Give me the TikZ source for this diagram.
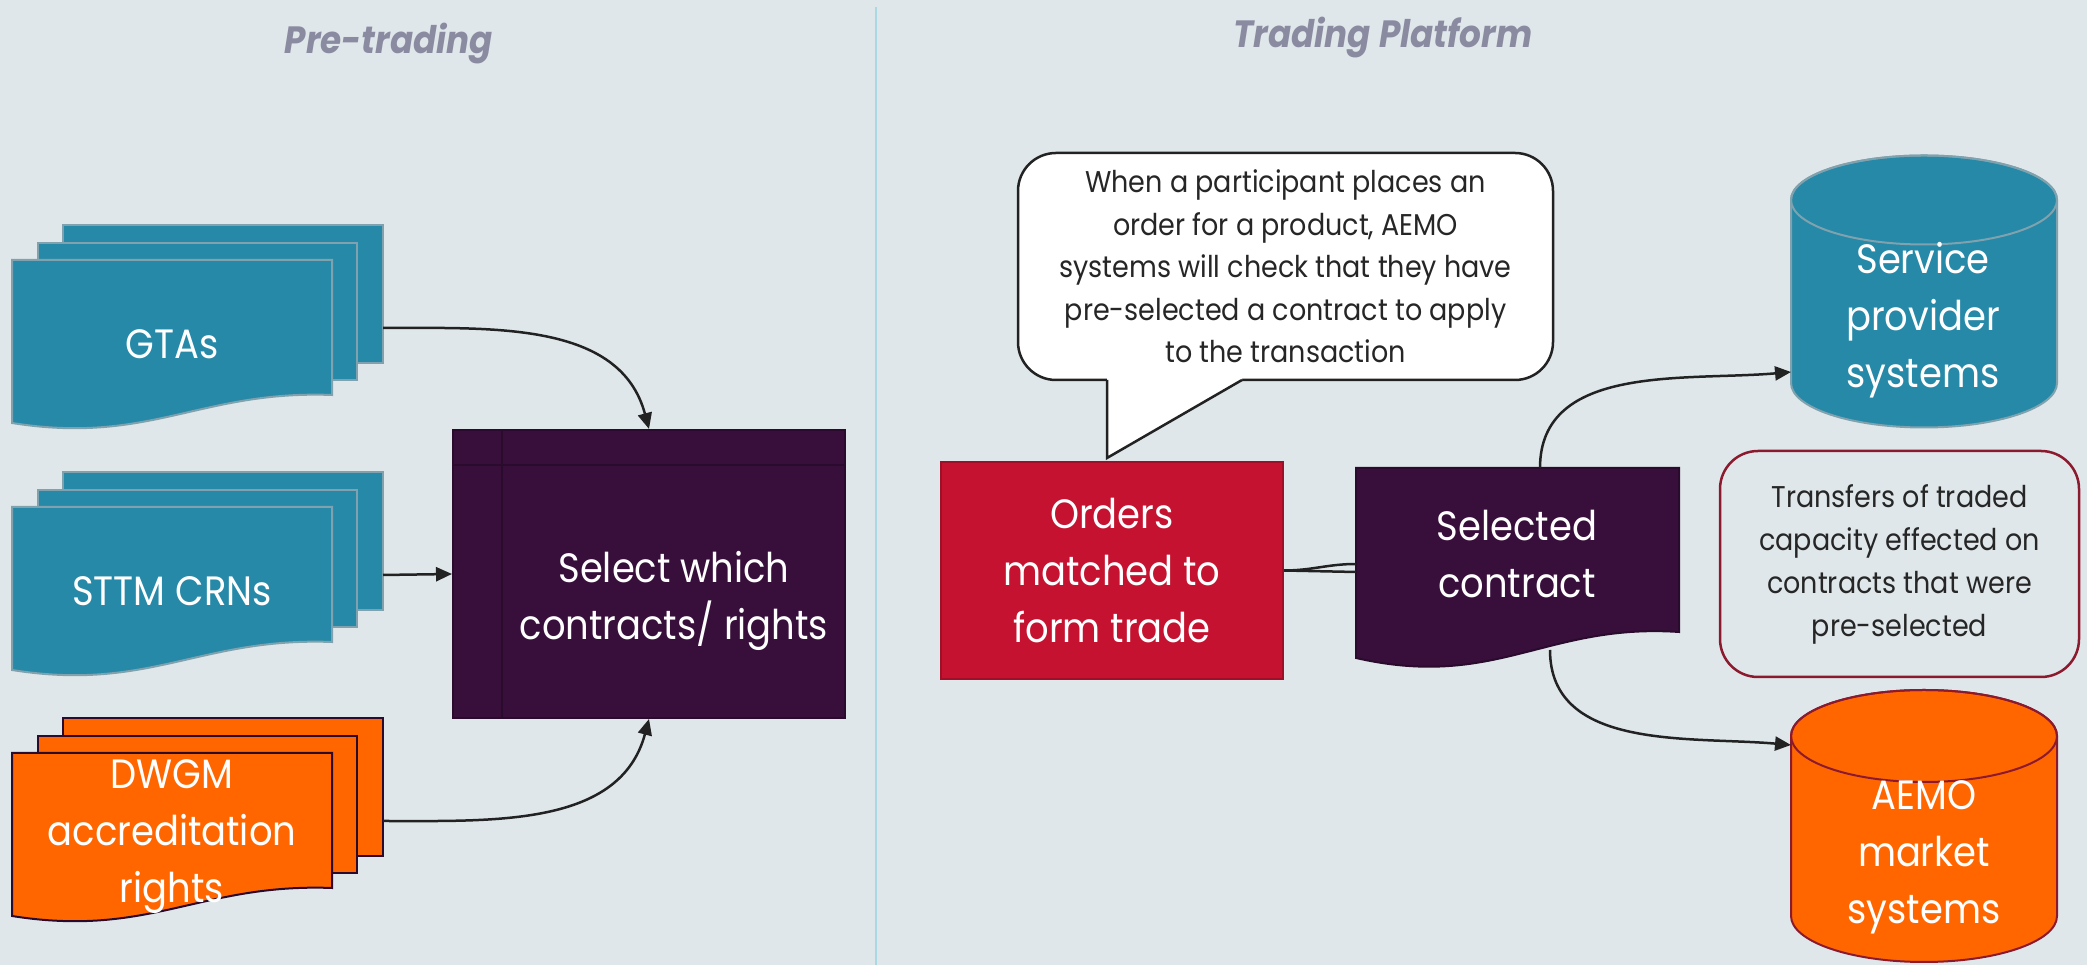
\documentclass[tikz,border=0pt]{standalone}
\usepackage{fontspec}
\setmainfont{Poppins}[FakeStretch=0.9]
\usetikzlibrary{arrows.meta,calc}
\definecolor{bg}{HTML}{DFE7EA}
\definecolor{tealfill}{HTML}{2689A8}
\definecolor{tealline}{HTML}{7FA2AE}
\definecolor{orangefill}{HTML}{FF6600}
\definecolor{purplefill}{HTML}{380F3B}
\definecolor{purpleline}{HTML}{2A0B2D}
\definecolor{redfill}{HTML}{C41230}
\definecolor{redline}{HTML}{A00F28}
\definecolor{darkred}{HTML}{8C1A2E}
\definecolor{darktext}{HTML}{262626}
\definecolor{titlegray}{HTML}{8A8BA0}
\definecolor{divider}{HTML}{A9D9E3}
\definecolor{linecol}{HTML}{222222}
\begin{document}
\begin{tikzpicture}[x=1pt,y=1pt,
  wtxt/.style={text=white,align=center,font=\fontsize{41}{57}\selectfont},
  ttl/.style={text=titlegray,font=\fontsize{38}{46}\selectfont\bfseries\itshape},
  conn/.style={draw=linecol,line width=2.5pt},
  arr/.style={conn,-{Triangle[length=16pt,width=14pt]}},
  note/.style={line width=2.5pt,rounded corners=38pt,outer sep=0pt,align=center,
    text=darktext,font=\fontsize{30}{42.5}\selectfont}]
\fill[bg] (0,0) rectangle (2087,965);
\useasboundingbox (0,0) rectangle (2087,965);

% headings and split
\node[ttl] (pre) at (389,921) {Pre-trading};
\node[ttl] (plat) at (1383,927) {Trading Platform};
\draw[divider,line width=2.5pt] (876,958) -- (876,0);

% stacked documents
\foreach \Y/\nm/\fc/\dc/\txt in {705/gta/tealfill/tealline/{GTAs},
    458/sttm/tealfill/tealline/{STTM CRNs},
    212/dwgm/orangefill/purpleline/{DWGM\\accreditation\\rights}} {
  \begin{scope}[shift={(12,\Y)}]
  \filldraw[fill=\fc,draw=\dc,line width=2pt] (51,35) rectangle (371,-103);
  \filldraw[fill=\fc,draw=\dc,line width=2pt] (26,17) rectangle (345,-120);
  \filldraw[fill=\fc,draw=\dc,line width=2pt] (0,0) -- (320,0) -- (320,-135)
    .. controls (188,-130) and (138,-185) .. (0,-163) -- cycle;
  \node[wtxt] (\nm) at (160,-84) {\txt};
  \coordinate (\nm-out) at (371,-68);
  \end{scope}
}

% selection box
\node[draw=purpleline,fill=purplefill,line width=2pt,minimum width=392pt,minimum height=288pt] (sel) at (649,391) {};
\draw[purpleline,line width=2.5pt] ($(sel.north west)+(50,-1)$) -- ($(sel.south west)+(50,1)$);
\draw[purpleline,line width=2.5pt] ($(sel.north west)+(1,-36)$) -- ($(sel.north east)+(-1,-36)$);
\node[wtxt] (seltxt) at ($(sel.center)+(25,-27)$) {Select which\\contracts/ rights};

\draw[arr] (gta-out) to[out=0,in=105] (sel.north);
\draw[arr] (sttm-out) -- (sel.west);
\draw[arr] (dwgm-out) to[out=0,in=-105] (sel.south);

% trading side
\node[draw=redline,fill=redfill,line width=2pt,minimum width=342pt,minimum height=217pt,wtxt] (orders) at (1112,394.5) {Orders\\matched to\\form trade};

\node[note,draw=linecol,fill=white,minimum width=535pt,minimum height=227pt] (call) at (1285.5,698.5)
  {When a participant places an\\order for a product, AEMO\\systems will check that they have\\pre-selected a contract to apply\\to the transaction};
\fill[white] ($(call.south west)+(89,3)$) -- ($(call.south west)+(89,-78)$) -- ($(call.south west)+(224,0)$) -- ($(call.south west)+(224,3)$) -- cycle;
\draw[linecol,line width=2.5pt] ($(call.south west)+(89,0)$) -- ($(call.south west)+(89,-78)$) -- ($(call.south west)+(224,0)$);

\filldraw[fill=purplefill,draw=purpleline,line width=2pt] (1356,497) -- (1679,497) -- (1679,333)
  .. controls (1546,342) and (1496,275) .. (1356,307) -- cycle;
\node[wtxt] (contract) at (1517,411) {Selected\\contract};
\coordinate (contract-top) at (1540,497);
\coordinate (contract-bot) at (1550,315);
\coordinate (contract-in1) at (1356,401);
\coordinate (contract-in2) at (1356,393);

\draw[conn] (orders.east) to[out=0,in=180] (contract-in1);
\draw[conn] (orders.east) -- (contract-in2);

% databases
\filldraw[fill=tealfill,draw=tealline,line width=2pt] (1791,765) -- (1791,582)
  arc[start angle=180,end angle=360,x radius=133,y radius=44.5] -- (2057,765)
  arc[start angle=0,end angle=180,x radius=133,y radius=44.5] -- cycle;
\draw[tealline,line width=2pt] (1924,765) ellipse[x radius=133,y radius=44.5];
\node[wtxt] (spsys) at (1923,645) {Service\\provider\\systems};
\coordinate (sp-in) at (1791,593);

\filldraw[fill=orangefill,draw=darkred,line width=2pt] (1791,229) -- (1791,49)
  arc[start angle=180,end angle=360,x radius=133,y radius=46] -- (2057,229)
  arc[start angle=0,end angle=180,x radius=133,y radius=46] -- cycle;
\draw[darkred,line width=2pt] (1924,229) ellipse[x radius=133,y radius=46];
\node[wtxt] (aemo) at (1924,108) {AEMO\\market\\systems};
\coordinate (aemo-in) at (1791,220);

\draw[arr] (contract-top) to[out=90,in=185] (sp-in);
\draw[arr] (contract-bot) to[out=-90,in=175] (aemo-in);

\node[note,draw=darkred,minimum width=359pt,minimum height=226pt,font=\fontsize{30}{43}\selectfont] (xfer) at (1899.5,401)
  {Transfers of traded\\capacity effected on\\contracts that were\\pre-selected};
\end{tikzpicture}
\end{document}
